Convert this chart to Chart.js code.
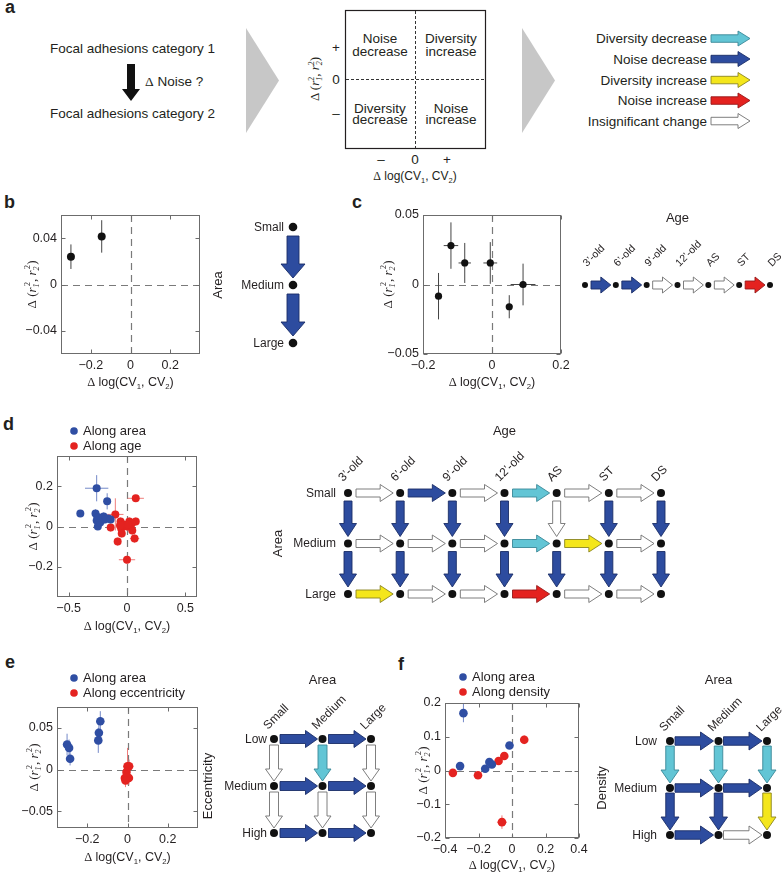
<!DOCTYPE html>
<html>
<head>
<meta charset="utf-8">
<title>Noise and diversity of focal adhesions</title>
<script src="https://cdn.jsdelivr.net/npm/chart.js@4.4.1/dist/chart.umd.min.js"></script>
<style>
html,body{margin:0;padding:0;background:#fff;}
body{position:relative;width:782px;height:876px;overflow:hidden;font-family:"Liberation Sans",Arial,sans-serif;color:#231f20;}
canvas,svg{position:absolute;}
.tag{position:absolute;font:bold 18px "Liberation Sans",Arial,sans-serif;line-height:18px;}
</style>
</head>
<body>
<svg id="panelA" width="782" height="190" style="left:0;top:0"></svg>
<div class="tag" style="left:5px;top:-2px">a</div>
<div class="tag" style="left:4px;top:193px">b</div>
<div class="tag" style="left:352px;top:193px">c</div>
<div class="tag" style="left:3px;top:415px">d</div>
<div class="tag" style="left:5px;top:653px">e</div>
<div class="tag" style="left:398px;top:655px">f</div>
<script>
// ---------- data ----------
const aCats = ['Focal adhesions category 1', 'Focal adhesions category 2'];
const aQuad = [['Noise', 'decrease'], ['Diversity', 'increase'], ['Diversity', 'decrease'], ['Noise', 'increase']];
const aLegend = ['Diversity decrease', 'Noise decrease', 'Diversity increase', 'Noise increase', 'Insignificant change'];
const aLegendKind = ['C', 'B', 'Y', 'R', 'W'];

// b: along area
const bX = [-0.30, -0.145];
const bY = [0.024, 0.0415];
const bYErr = [0.0106, 0.014];
const bXTicks = [-0.2, 0, 0.2];
const bYTicks = [-0.04, 0, 0.04];
const bRows = ['Small', 'Medium', 'Large'];
const bDown = [['B'], ['B']];

// c: along age
const cX = [-0.155, -0.119, -0.079, -0.005, 0.050, 0.090];
const cY = [-0.0084, 0.028, 0.0155, 0.0155, -0.016, 0.0];
const cXErr = [0, 0.021, 0.018, 0.02, 0, 0.036];
const cYErr = [0.0167, 0.0167, 0.0144, 0.015, 0.0083, 0.015];
const cXTicks = [-0.2, 0, 0.2];
const cYTicks = [-0.05, 0, 0.05];
const cAges = ['3\u2019-old', '6\u2019-old', '9\u2019-old', '12\u2019-old', 'AS', 'ST', 'DS'];
const cRight = [['B', 'B', 'W', 'W', 'W', 'R']];

// d: area x age
const dAreaX = [-0.40, -0.26, -0.17, -0.27, -0.25, -0.24, -0.22, -0.26, -0.16, -0.20, -0.19, -0.23, -0.14, -0.25];
const dAreaY = [0.065, 0.19, 0.125, 0.065, 0.0, 0.045, 0.04, 0.03, 0.04, 0.05, 0.035, 0.02, 0.035, 0.045];
const dAreaXErr = [0.015, 0.1, 0.03, 0.02, 0.015, 0.02, 0.02, 0.03, 0.02, 0.02, 0.02, 0.02, 0.02, 0.04];
const dAreaYErr = [0.015, 0.065, 0.04, 0.02, 0.015, 0.02, 0.02, 0.02, 0.02, 0.02, 0.02, 0.02, 0.015, 0.02];
const dAgeX = [-0.10, 0.075, -0.14, -0.055, -0.05, -0.045, -0.08, 0.02, 0.03, 0.075, 0.065, 0.0, 0.045, 0.0, 0.04, -0.03, -0.06, 0.01];
const dAgeY = [0.06, 0.14, -0.005, 0.025, -0.01, -0.035, -0.075, 0.025, 0.0, 0.025, -0.06, 0.0, -0.02, -0.165, 0.015, 0.01, 0.005, 0.01];
const dAgeXErr = [0.07, 0.07, 0.02, 0.02, 0.02, 0.02, 0.02, 0.02, 0.02, 0.02, 0.04, 0.02, 0.02, 0.07, 0.02, 0.02, 0.02, 0.02];
const dAgeYErr = [0.08, 0.015, 0.02, 0.02, 0.02, 0.02, 0.02, 0.02, 0.02, 0.02, 0.02, 0.02, 0.02, 0.02, 0.02, 0.02, 0.02, 0.02];
const dXTicks = [-0.5, 0, 0.5];
const dYTicks = [-0.2, 0, 0.2];
const dAreas = ['Small', 'Medium', 'Large'];
const dRight = [['W', 'B', 'W', 'C', 'W', 'W'], ['W', 'W', 'W', 'C', 'Y', 'W'], ['Y', 'W', 'W', 'R', 'W', 'W']];
const dDown = [['B', 'B', 'B', 'B', 'W', 'B', 'B'], ['B', 'B', 'B', 'B', 'B', 'B', 'B']];

// e: area x eccentricity
const eAreaX = [-0.30, -0.29, -0.285, -0.135, -0.142, -0.145];
const eAreaY = [0.030, 0.026, 0.013, 0.058, 0.044, 0.035];
const eAreaXErr = [0.008, 0.008, 0.008, 0.008, 0.008, 0.008];
const eAreaYErr = [0.013, 0.01, 0.008, 0.012, 0.01, 0.015];
const eEccX = [0.0, 0.008, -0.013, 0.007, -0.005, -0.01];
const eEccY = [0.004, 0.004, -0.010, -0.010, -0.003, -0.013];
const eEccXErr = [0.015, 0.02, 0.012, 0.012, 0.01, 0.01];
const eEccYErr = [0.022, 0.008, 0.008, 0.008, 0.008, 0.008];
const eXTicks = [-0.2, 0, 0.2];
const eYTicks = [-0.05, 0, 0.05];
const eAreas = ['Small', 'Medium', 'Large'];
const eEcc = ['Low', 'Medium', 'High'];
const eRight = [['B', 'B'], ['B', 'B'], ['B', 'B']];
const eDown = [['W', 'C', 'W'], ['W', 'W', 'W']];

// f: area x density
const fAreaX = [-0.29, -0.31, -0.16, -0.135, -0.12, -0.015];
const fAreaY = [0.17, 0.013, 0.005, 0.025, 0.018, 0.074];
const fAreaXErr = [0.01, 0.01, 0.01, 0.01, 0.01, 0.01];
const fAreaYErr = [0.027, 0.006, 0.006, 0.006, 0.006, 0.006];
const fDenX = [-0.353, -0.203, -0.08, -0.046, 0.073, -0.06];
const fDenY = [-0.007, -0.014, 0.028, 0.043, 0.091, -0.153];
const fDenXErr = [0.01, 0.01, 0.01, 0.01, 0.01, 0.03];
const fDenYErr = [0.006, 0.006, 0.006, 0.006, 0.013, 0.02];
const fXTicks = [-0.4, -0.2, 0, 0.2, 0.4];
const fYTicks = [-0.2, -0.1, 0, 0.1, 0.2];
const fAreas = ['Small', 'Medium', 'Large'];
const fDens = ['Low', 'Medium', 'High'];
const fRight = [['B', 'B'], ['B', 'B'], ['B', 'W']];
const fDown = [['C', 'C', 'C'], ['B', 'B', 'Y']];

// ---------- style ----------
const SANS = '"Liberation Sans", Arial, sans-serif';
const SERIF = '"Liberation Serif", "Times New Roman", serif';
const INK = '#231f20';
const BLUE = '#2f4ea3', RED = '#e42320';
const PAL = {
  B: ['#2d4c9f', '#1b2e68'],
  C: ['#62c5d5', '#3a8897'],
  Y: ['#f4e61b', '#8a8420'],
  R: ['#e4221f', '#961918'],
  W: ['#ffffff', '#707070']
};
Chart.defaults.font.family = SANS;

function fmt(v) {
  if (Math.abs(v) < 1e-9) return '0';
  return (v < 0 ? '\u2212' : '') + String(+Math.abs(v).toFixed(3));
}

function arrowPts(x1, y1, x2, y2, shaft, head, headL) {
  const L = Math.hypot(x2 - x1, y2 - y1), ux = (x2 - x1) / L, uy = (y2 - y1) / L, nx = -uy, ny = ux;
  const kx = x2 - ux * headL, ky = y2 - uy * headL, s = shaft / 2, h = head / 2;
  return [[x1 + nx * s, y1 + ny * s], [kx + nx * s, ky + ny * s], [kx + nx * h, ky + ny * h], [x2, y2],
          [kx - nx * h, ky - ny * h], [kx - nx * s, ky - ny * s], [x1 - nx * s, y1 - ny * s]];
}

function paintArrow(ctx, x1, y1, x2, y2, kind, A) {
  const pts = arrowPts(x1, y1, x2, y2, A.shaft, A.head, A.headL);
  ctx.beginPath();
  pts.forEach((p, i) => i ? ctx.lineTo(p[0], p[1]) : ctx.moveTo(p[0], p[1]));
  ctx.closePath();
  ctx.fillStyle = PAL[kind][0]; ctx.fill();
  ctx.strokeStyle = PAL[kind][1]; ctx.lineWidth = 0.9; ctx.stroke();
}

// rich axis titles
const X_TITLE = [['\u0394 ', 'g'], ['log(CV', 'n'], ['1', 'b'], [', CV', 'n'], ['2', 'b'], [')', 'n']];
const Y_TITLE = [['\u0394 (', 'g'], ['r', 'i'], ['1|2', 'k'], [', ', 'g'], ['r', 'i'], ['2|2', 'k'], [')', 'g']];

function partFont(k, s) {
  if (k === 'n') return s + 'px ' + SANS;
  if (k === 'b') return (s * 0.62) + 'px ' + SANS;
  if (k === 'g') return s + 'px ' + SERIF;
  if (k === 'i') return 'italic ' + s + 'px ' + SERIF;
  return 'italic ' + (s * 0.62) + 'px ' + SERIF;
}

function drawRich(ctx, parts, cx, cy, s, rot) {
  ctx.save();
  ctx.translate(cx, cy);
  if (rot) ctx.rotate(rot);
  ctx.textAlign = 'left'; ctx.textBaseline = 'alphabetic'; ctx.fillStyle = INK;
  const w = parts.map(([t, k]) => {
    ctx.font = partFont(k, s);
    if (k === 'k') return Math.max(...t.split('|').map(q => ctx.measureText(q).width)) + 1.5;
    return ctx.measureText(t).width;
  });
  let x = -w.reduce((a, b) => a + b, 0) / 2;
  const base = s * 0.35;
  parts.forEach(([t, k], i) => {
    ctx.font = partFont(k, s);
    if (k === 'b') ctx.fillText(t, x, base + s * 0.22);
    else if (k === 'k') {
      const [lo, hi] = t.split('|');
      ctx.fillText(lo, x, base + s * 0.25);
      ctx.font = (s * 0.62) + 'px ' + SERIF;
      ctx.fillText(hi, x + 1.5, base - s * 0.42);
    } else ctx.fillText(t, x, base);
    x += w[i];
  });
  ctx.restore();
}

function mk(left, top, w, h) {
  const cv = document.createElement('canvas');
  cv.width = w; cv.height = h;
  cv.style.left = left + 'px'; cv.style.top = top + 'px';
  cv.style.width = w + 'px'; cv.style.height = h + 'px';
  document.body.appendChild(cv);
  return cv;
}

function pts(xs, ys, exs, eys) {
  return xs.map((v, i) => ({x: v, y: ys[i], ex: exs ? exs[i] : 0, ey: eys ? eys[i] : 0}));
}

// ---------- scatter panels ----------
function scatterDeco(cfg) {
  return {
    id: 'deco',
    beforeDatasetsDraw(chart) {
      const {ctx, chartArea: a, scales: {x, y}} = chart;
      ctx.save();
      ctx.strokeStyle = '#7a7a7a'; ctx.lineWidth = 1.2; ctx.setLineDash([7, 5]);
      const x0 = Math.round(x.getPixelForValue(0)) + 0.5, y0 = Math.round(y.getPixelForValue(0)) + 0.5;
      ctx.beginPath();
      ctx.moveTo(x0, a.top); ctx.lineTo(x0, a.bottom);
      ctx.moveTo(a.left, y0); ctx.lineTo(a.right, y0);
      ctx.stroke();
      ctx.setLineDash([]); ctx.lineWidth = 1;
      cfg.sets.forEach(s => {
        ctx.strokeStyle = s.err;
        ctx.beginPath();
        s.pts.forEach(p => {
          const px = x.getPixelForValue(p.x), py = y.getPixelForValue(p.y);
          if (p.ex) { ctx.moveTo(x.getPixelForValue(p.x - p.ex), py); ctx.lineTo(x.getPixelForValue(p.x + p.ex), py); }
          if (p.ey) { ctx.moveTo(px, y.getPixelForValue(p.y + p.ey)); ctx.lineTo(px, y.getPixelForValue(p.y - p.ey)); }
        });
        ctx.stroke();
      });
      ctx.restore();
    },
    afterDraw(chart) {
      const {ctx, chartArea: a, scales: {x, y}} = chart;
      ctx.save();
      ctx.strokeStyle = '#6c6c6c'; ctx.lineWidth = 1;
      const L = Math.round(a.left) + 0.5, R = Math.round(a.right) - 0.5, T = Math.round(a.top) + 0.5, B = Math.round(a.bottom) - 0.5;
      ctx.strokeRect(L, T, R - L, B - T);
      ctx.beginPath();
      cfg.xt.forEach(v => {
        const px = Math.round(x.getPixelForValue(v)) + 0.5;
        ctx.moveTo(px, B); ctx.lineTo(px, B - 4); ctx.moveTo(px, T); ctx.lineTo(px, T + 4);
      });
      cfg.yt.forEach(v => {
        const py = Math.round(y.getPixelForValue(v)) + 0.5;
        ctx.moveTo(L, py); ctx.lineTo(L + 4, py); ctx.moveTo(R, py); ctx.lineTo(R - 4, py);
      });
      ctx.stroke();
      drawRich(ctx, X_TITLE, (a.left + a.right) / 2, a.bottom + cfg.xto, 12.5);
      drawRich(ctx, Y_TITLE, a.left + cfg.yto, (a.top + a.bottom) / 2, 13, -Math.PI / 2);
      if (cfg.legend) {
        cfg.sets.forEach((s, i) => {
          const lx = a.left + cfg.legend.dx, ly = a.top + cfg.legend.dy[i];
          ctx.fillStyle = s.color;
          ctx.beginPath(); ctx.arc(lx, ly, 3.8, 0, Math.PI * 2); ctx.fill();
          ctx.fillStyle = INK; ctx.font = '13px ' + SANS;
          ctx.textAlign = 'left'; ctx.textBaseline = 'middle';
          ctx.fillText(s.label, lx + 9, ly + 0.5);
        });
      }
      ctx.restore();
    }
  };
}

function scatterPanel(area, cfg) {
  const pad = {l: 62, t: 60, r: 24, b: 50};
  const W = area.r - area.l + pad.l + pad.r, H = area.b - area.t + pad.t + pad.b;
  const cv = mk(area.l - pad.l, area.t - pad.t, W, H);
  const font = {family: SANS, size: 12.5};
  new Chart(cv, {
    type: 'scatter',
    data: {
      datasets: cfg.sets.map(s => ({
        label: s.label, data: s.pts, backgroundColor: s.color, borderWidth: 0,
        pointRadius: s.r, pointHoverRadius: s.r, clip: false
      }))
    },
    options: {
      responsive: false, animation: false, events: [],
      layout: {padding: {left: 0, top: pad.t, right: pad.r, bottom: 0}},
      plugins: {legend: {display: false}, tooltip: {enabled: false}},
      scales: {
        x: {
          type: 'linear', min: cfg.xr[0], max: cfg.xr[1],
          grid: {display: false, drawTicks: false}, border: {display: false},
          ticks: {font, color: INK, padding: 4, maxRotation: 0, autoSkip: false, callback: fmt},
          afterBuildTicks: s => { s.ticks = cfg.xt.map(v => ({value: v})); },
          afterFit: s => { s.height = pad.b; }
        },
        y: {
          type: 'linear', min: cfg.yr[0], max: cfg.yr[1],
          grid: {display: false, drawTicks: false}, border: {display: false},
          ticks: {font, color: INK, padding: 4, autoSkip: false, callback: fmt},
          afterBuildTicks: s => { s.ticks = cfg.yt.map(v => ({value: v})); },
          afterFit: s => { s.width = pad.l; }
        }
      }
    },
    plugins: [scatterDeco(cfg)]
  });
}

// ---------- transition diagrams ----------
function gridDeco(cfg) {
  return {
    id: 'gridDeco',
    beforeDatasetsDraw(chart) {
      const {ctx, scales: {x, y}} = chart;
      const A = cfg.arrow;
      ctx.save();
      (cfg.right || []).forEach((row, r) => row.forEach((k, i) => {
        const py = y.getPixelForValue(r);
        paintArrow(ctx, x.getPixelForValue(i) + A.g0, py, x.getPixelForValue(i + 1) - A.g1, py, k, A);
      }));
      (cfg.down || []).forEach((row, r) => row.forEach((k, i) => {
        const px = x.getPixelForValue(i);
        paintArrow(ctx, px, y.getPixelForValue(r) + A.g0, px, y.getPixelForValue(r + 1) - A.g1, k, A);
      }));
      ctx.restore();
    },
    afterDatasetsDraw(chart) {
      const {ctx, scales: {x, y}} = chart;
      ctx.save();
      ctx.fillStyle = INK;
      const nC = cfg.nCols, nR = cfg.nRows;
      const xc = (x.getPixelForValue(0) + x.getPixelForValue(nC - 1)) / 2;
      const yc = (y.getPixelForValue(0) + y.getPixelForValue(nR - 1)) / 2;
      if (cfg.cols) {
        ctx.font = cfg.colFont + 'px ' + SANS;
        ctx.textAlign = 'left'; ctx.textBaseline = 'alphabetic';
        cfg.cols.forEach((t, i) => {
          ctx.save();
          ctx.translate(x.getPixelForValue(i) + cfg.colOff[0], y.getPixelForValue(0) + cfg.colOff[1]);
          ctx.rotate(-Math.PI / 4);
          ctx.fillText(t, 0, 0);
          ctx.restore();
        });
      }
      if (cfg.rows) {
        ctx.font = '12px ' + SANS;
        ctx.textAlign = 'right'; ctx.textBaseline = 'middle';
        cfg.rows.forEach((t, r) => ctx.fillText(t, x.getPixelForValue(0) - cfg.rowGap, y.getPixelForValue(r) + 0.5));
      }
      ctx.font = '13px ' + SANS;
      ctx.textAlign = 'center'; ctx.textBaseline = 'middle';
      if (cfg.colTitle) ctx.fillText(cfg.colTitle, xc, y.getPixelForValue(0) + cfg.colTitleDy);
      if (cfg.rowTitle) {
        ctx.save();
        ctx.translate(x.getPixelForValue(0) + cfg.rowTitleDx, yc);
        ctx.rotate(-Math.PI / 2);
        ctx.fillText(cfg.rowTitle, 0, 0);
        ctx.restore();
      }
      ctx.restore();
    }
  };
}

function gridPanel(cfg) {
  const pad = {l: 100, t: 80, r: 30, b: 20};
  const nC = cfg.nCols, nR = cfg.nRows;
  const area = {
    l: nC > 1 ? cfg.x0 : cfg.x0 - 20, r: nC > 1 ? cfg.x1 : cfg.x0 + 20,
    t: nR > 1 ? cfg.y0 : cfg.y0 - 20, b: nR > 1 ? cfg.y1 : cfg.y0 + 20
  };
  const W = area.r - area.l + pad.l + pad.r, H = area.b - area.t + pad.t + pad.b;
  const cv = mk(area.l - pad.l, area.t - pad.t, W, H);
  const nodes = [];
  for (let r = 0; r < nR; r++) for (let c = 0; c < nC; c++) nodes.push({x: c, y: r});
  new Chart(cv, {
    type: 'scatter',
    data: {datasets: [{data: nodes, backgroundColor: '#111', borderWidth: 0, pointRadius: cfg.dot, pointHoverRadius: cfg.dot, clip: false}]},
    options: {
      responsive: false, animation: false, events: [],
      layout: {padding: {left: pad.l, top: pad.t, right: pad.r, bottom: pad.b}},
      plugins: {legend: {display: false}, tooltip: {enabled: false}},
      scales: {
        x: {type: 'linear', display: false, min: nC > 1 ? 0 : -1, max: nC > 1 ? nC - 1 : 1},
        y: {type: 'linear', display: false, reverse: true, min: nR > 1 ? 0 : -1, max: nR > 1 ? nR - 1 : 1}
      }
    },
    plugins: [gridDeco(cfg)]
  });
}

// ---------- panel a (schematic) ----------
(function () {
  const svg = document.getElementById('panelA');
  const poly = (p, fill, stroke) => `<polygon points="${p.map(q => q[0].toFixed(1) + ',' + q[1].toFixed(1)).join(' ')}" fill="${fill}"${stroke ? ` stroke="${stroke}" stroke-width="0.9"` : ''}/>`;
  let s = `<g font-family='"Liberation Sans", Arial, sans-serif' font-size="13.5" fill="${INK}">`;
  s += `<text x="50" y="53">${aCats[0]}</text>`;
  s += `<text x="50" y="118">${aCats[1]}</text>`;
  s += `<text x="145" y="86"><tspan font-family='"Liberation Serif", serif'>\u0394</tspan> Noise ?</text>`;
  s += poly(arrowPts(131, 64, 131, 101, 8, 18, 12), '#111');
  s += poly([[246, 28], [246, 133], [279, 80.5]], '#c7c7c7');
  s += poly([[522, 28], [522, 133], [555, 80.5]], '#c7c7c7');
  s += `<rect x="345.5" y="10.5" width="140" height="138" fill="none" stroke="${INK}" stroke-width="1.2"/>`;
  s += `<path d="M415.5 11V148M346 79.5H485" stroke="#333" stroke-width="1" stroke-dasharray="3 2"/>`;
  const qx = [380, 451, 380, 451], qy = [[43, 55.5], [43, 55.5], [112.5, 124], [112.5, 124]];
  aQuad.forEach((q, i) => {
    s += `<text x="${qx[i]}" y="${qy[i][0]}" text-anchor="middle">${q[0]}</text>`;
    s += `<text x="${qx[i]}" y="${qy[i][1]}" text-anchor="middle">${q[1]}</text>`;
  });
  s += `<text x="336" y="51.5" text-anchor="middle">+</text>`;
  s += `<text x="336" y="84" text-anchor="middle">0</text>`;
  s += `<text x="336" y="117.5" text-anchor="middle">\u2013</text>`;
  s += `<text x="381" y="164" text-anchor="middle">\u2013</text>`;
  s += `<text x="415" y="164" text-anchor="middle">0</text>`;
  s += `<text x="447" y="164" text-anchor="middle">+</text>`;
  s += `<text x="415" y="180" text-anchor="middle" font-size="12"><tspan font-family='"Liberation Serif", serif'>\u0394</tspan> log(CV<tspan font-size="7.5" dy="3">1</tspan><tspan dy="-3">, CV</tspan><tspan font-size="7.5" dy="3">2</tspan><tspan dy="-3">)</tspan></text>`;
  s += `<text transform="translate(319,79) rotate(-90)" text-anchor="middle" font-family='"Liberation Serif", serif' font-size="13">\u0394 (<tspan font-style="italic">r</tspan><tspan font-size="8" font-style="italic" dy="3">1</tspan><tspan font-size="8" dx="-4" dy="-8.5">2</tspan><tspan dy="5.5">, </tspan><tspan font-style="italic">r</tspan><tspan font-size="8" font-style="italic" dy="3">2</tspan><tspan font-size="8" dx="-4" dy="-8.5">2</tspan><tspan dy="5.5">)</tspan></text>`;
  const ly = [38.5, 59, 80, 100.5, 121];
  aLegend.forEach((t, i) => {
    s += `<text x="707" y="${ly[i] + 4.8}" text-anchor="end">${t}</text>`;
    s += poly(arrowPts(711, ly[i], 750, ly[i], 7.5, 15, 12), PAL[aLegendKind[i]][0], PAL[aLegendKind[i]][1]);
  });
  s += '</g>';
  svg.innerHTML = s;
})();

// ---------- build panels ----------
scatterPanel({l: 61, r: 200, t: 215, b: 354}, {
  xr: [-0.35, 0.35], yr: [-0.06, 0.06], xt: bXTicks, yt: bYTicks, xto: 28, yto: -30,
  sets: [{label: 'Along area', pts: pts(bX, bY, null, bYErr), color: '#111', err: '#444', r: 4}]
});
gridPanel({
  nCols: 1, nRows: 3, x0: 293, y0: 227, y1: 343, dot: 4.3,
  rows: bRows, rowGap: 9, rowTitle: 'Area', rowTitleDx: -75,
  down: bDown, arrow: {shaft: 12, head: 24, headL: 14, g0: 9, g1: 7}
});

scatterPanel({l: 423, r: 561, t: 215, b: 354}, {
  xr: [-0.2, 0.2], yr: [-0.05, 0.05], xt: cXTicks, yt: cYTicks, xto: 28, yto: -36,
  sets: [{label: 'Along age', pts: pts(cX, cY, cXErr, cYErr), color: '#111', err: '#444', r: 3.6}]
});
gridPanel({
  nCols: 7, nRows: 1, x0: 585, x1: 770, y0: 285, dot: 3,
  cols: cAges, colFont: 10.5, colOff: [2, -18], colTitle: 'Age', colTitleDy: -67,
  right: cRight, arrow: {shaft: 8, head: 16, headL: 10, g0: 6, g1: 5}
});

scatterPanel({l: 57, r: 197, t: 456, b: 597}, {
  xr: [-0.6, 0.6], yr: [-0.35, 0.35], xt: dXTicks, yt: dYTicks, xto: 29, yto: -25,
  legend: {dx: 17, dy: [-25, -10]},
  sets: [
    {label: 'Along area', pts: pts(dAreaX, dAreaY, dAreaXErr, dAreaYErr), color: BLUE, err: '#7489c8', r: 4},
    {label: 'Along age', pts: pts(dAgeX, dAgeY, dAgeXErr, dAgeYErr), color: RED, err: '#ef7d7b', r: 4}
  ]
});
gridPanel({
  nCols: 7, nRows: 3, x0: 348, x1: 661, y0: 493, y1: 594, dot: 4,
  cols: cAges, colFont: 12, colOff: [-5, -11], colTitle: 'Age', colTitleDy: -62,
  rows: dAreas, rowGap: 12, rowTitle: 'Area', rowTitleDx: -70,
  right: dRight, down: dDown, arrow: {shaft: 8, head: 17, headL: 13, g0: 8, g1: 7}
});

scatterPanel({l: 57, r: 198, t: 707, b: 828}, {
  xr: [-0.35, 0.35], yr: [-0.07, 0.075], xt: eXTicks, yt: eYTicks, xto: 29, yto: -24,
  legend: {dx: 17, dy: [-29, -14]},
  sets: [
    {label: 'Along area', pts: pts(eAreaX, eAreaY, eAreaXErr, eAreaYErr), color: BLUE, err: '#7489c8', r: 4.3},
    {label: 'Along eccentricity', pts: pts(eEccX, eEccY, eEccXErr, eEccYErr), color: RED, err: '#ef7d7b', r: 4.3}
  ]
});
gridPanel({
  nCols: 3, nRows: 3, x0: 274, x1: 371, y0: 739, y1: 833, dot: 4,
  cols: eAreas, colFont: 12, colOff: [-6, -9], colTitle: 'Area', colTitleDy: -59,
  rows: eEcc, rowGap: 7, rowTitle: 'Eccentricity', rowTitleDx: -66,
  right: eRight, down: eDown, arrow: {shaft: 9, head: 17, headL: 12, g0: 6, g1: 5}
});

scatterPanel({l: 445, r: 579, t: 703, b: 838}, {
  xr: [-0.4, 0.4], yr: [-0.2, 0.2], xt: fXTicks, yt: fYTicks, xto: 27, yto: -23,
  legend: {dx: 18, dy: [-26, -11]},
  sets: [
    {label: 'Along area', pts: pts(fAreaX, fAreaY, fAreaXErr, fAreaYErr), color: BLUE, err: '#7489c8', r: 4.3},
    {label: 'Along density', pts: pts(fDenX, fDenY, fDenXErr, fDenYErr), color: RED, err: '#ef7d7b', r: 4.3}
  ]
});
gridPanel({
  nCols: 3, nRows: 3, x0: 670, x1: 767, y0: 741, y1: 835, dot: 4,
  cols: fAreas, colFont: 12, colOff: [-6, -9], colTitle: 'Area', colTitleDy: -61,
  rows: fDens, rowGap: 13, rowTitle: 'Density', rowTitleDx: -68,
  right: fRight, down: fDown, arrow: {shaft: 8.5, head: 18, headL: 13, g0: 5, g1: 5}
});
</script>
</body>
</html>
